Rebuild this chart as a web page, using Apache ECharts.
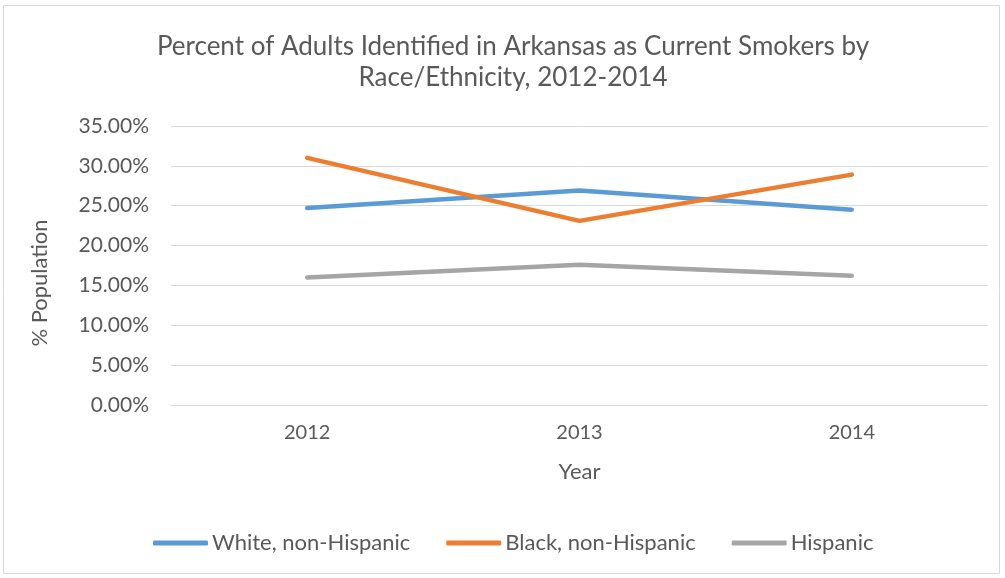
<!DOCTYPE html>
<html><head><meta charset="utf-8">
<script src="https://cdn.jsdelivr.net/npm/echarts@6/dist/echarts.min.js"></script>
<style>html,body{margin:0;padding:0;background:#fff}#c{width:1005px;height:578px}</style>
</head><body><div id="c"></div>
<script>
var years = ['2012', '2013', '2014'];
var white = [24.7, 26.9, 24.5];
var black = [31.0, 23.1, 28.9];
var hispanic = [16.0, 17.6, 16.2];
var seriesNames = ['White, non-Hispanic', 'Black, non-Hispanic', 'Hispanic'];
var colors = ['#5B9BD5', '#ED7D31', '#A5A5A5'];

var font = 'Lato, "Open Sans", sans-serif';
var chart = echarts.init(document.getElementById('c'));
function mk(name, data, color) {
  return {name: name, type: 'line', data: data, symbol: 'none', smooth: false,
    lineStyle: {width: 4.5, color: color, cap: 'round', join: 'round'}, itemStyle: {color: color}};
}
chart.setOption({
  animation: false,
  title: {text: 'Percent of Adults Identified in Arkansas as Current Smokers by\nRace/Ethnicity, 2012-2014',
    left: 508, top: 26, textAlign: 'center',
    textStyle: {fontFamily: font, fontSize: 26, fontWeight: 'normal', color: '#595959', lineHeight: 31}},
  grid: {left: 171, right: 17, top: 126, bottom: 173},
  legend: {top: 527, left: 148, itemWidth: 55, itemHeight: 5, itemGap: 36,
    icon: 'roundRect',
    textStyle: {fontFamily: font, fontSize: 22, color: '#595959', padding: [0,0,0,-1]},
    data: seriesNames},
  xAxis: {type: 'category', data: years, boundaryGap: true,
    axisLine: {show: true, lineStyle: {color: '#D9D9D9', width: 1}}, axisTick: {show: false},
    axisLabel: {fontFamily: font, fontSize: 20, color: '#595959', margin: 18},
    name: 'Year', nameLocation: 'middle', nameGap: 56,
    nameTextStyle: {fontFamily: font, fontSize: 22, color: '#595959'}},
  yAxis: {type: 'value', min: 0, max: 35, interval: 5,
    axisLine: {show: false}, axisTick: {show: false},
    splitLine: {lineStyle: {color: '#D9D9D9', width: 1}},
    axisLabel: {fontFamily: font, fontSize: 21, color: '#595959', margin: 22,
      formatter: function (v) { return v.toFixed(2) + '%'; }}},
  graphic: [
    {type: 'rect', shape: {x: 3.5, y: 5.5, width: 996, height: 568}, style: {fill: 'none', stroke: '#D9D9D9', lineWidth: 1}, silent: true, z: -1},
    {type: 'text', x: 40, y: 283, rotation: Math.PI / 2,
      style: {text: '% Population', fontFamily: font, fontSize: 22, fill: '#595959', align: 'center', verticalAlign: 'middle'}}
  ],
  series: [mk(seriesNames[0], white, colors[0]), mk(seriesNames[1], black, colors[1]), mk(seriesNames[2], hispanic, colors[2])]
});
</script></body></html>
